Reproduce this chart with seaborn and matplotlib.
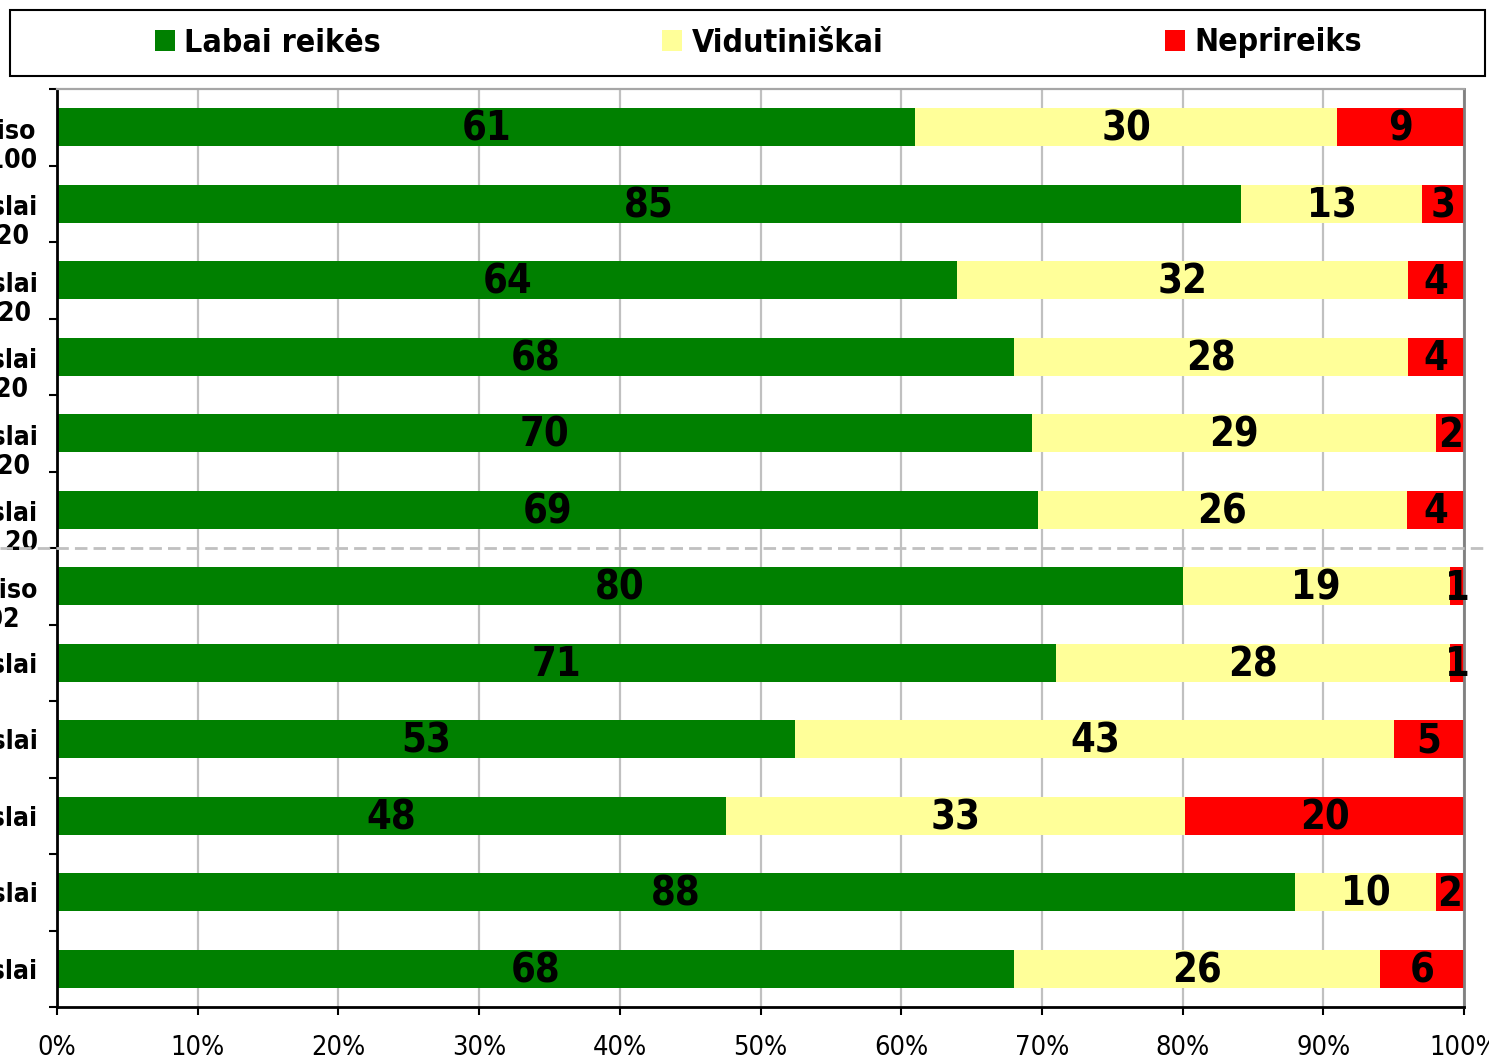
import matplotlib
matplotlib.use("Agg")
import matplotlib.pyplot as plt
from matplotlib.patches import Rectangle
from matplotlib.font_manager import FontProperties
import seaborn as sns
import pandas as pd

# ---------------- data ----------------
categories = [
    "\nIš viso\nN=100",
    "\nGamybos verslai\nimties dydis 20",
    "\nStatybos verslai\nimties dydis 20",
    "\nPrekybos verslai\nimties dydis 20",
    "\nPaslaugų verslai\nimties dydis 20",
    "\nTurizmo verslai\nimties dydis 20",
    "\nIš viso\n102",
    "Gamybos verslai",
    "Statybos verslai",
    "Prekybos verslai",
    "Paslaugų verslai",
    "Turizmo verslai",
]
labai_reikes = [61, 85, 64, 68, 70, 69, 80, 71, 53, 48, 88, 68]
vidutiniskai = [30, 13, 32, 28, 29, 26, 19, 28, 43, 33, 10, 26]
neprireiks = [9, 3, 4, 4, 2, 4, 1, 1, 5, 20, 2, 6]
series_names = ["Labai reikės", "Vidutiniškai", "Neprireiks"]
series_colors = ["#008000", "#FFFF99", "#FF0000"]
x_ticks = [0, 10, 20, 30, 40, 50, 60, 70, 80, 90, 100]
x_tick_labels = ["0%", "10%", "20%", "30%", "40%", "50%", "60%", "70%", "80%", "90%", "100%"]

# ---------------- style ----------------
sns.set_theme(style="ticks")
plt.rcParams["font.family"] = ["DejaVu Sans"]
plt.rcParams["text.color"] = "black"

df = pd.DataFrame({
    "cat": categories,
    "g": labai_reikes,
    "v": vidutiniskai,
    "n": neprireiks,
})
total = df["g"] + df["v"] + df["n"]
df["s1"] = df["g"] / total * 100
df["s2"] = (df["g"] + df["v"]) / total * 100
df["s3"] = (df["g"] + df["v"] + df["n"]) / total * 100

W, H = 1489, 1059
fig = plt.figure(figsize=(W / 100, H / 100), dpi=100, facecolor="white")
ax = fig.add_axes([57 / W, 1 - 1007 / H, (1464 - 57) / W, (1007 - 89) / H])
ax.set_facecolor("white")

# cumulative stacked bars (drawn back to front)
for col, name, color in [("s3", series_names[2], series_colors[2]),
                         ("s2", series_names[1], series_colors[1]),
                         ("s1", series_names[0], series_colors[0])]:
    sns.barplot(data=df, y="cat", x=col, order=categories, orient="h",
                color=color, saturation=1, width=0.5, errorbar=None,
                label=name, linewidth=0, ax=ax, zorder=2)

if ax.get_legend() is not None:
    ax.get_legend().remove()

ax.set_xlim(0, 100)
ax.set_ylim(len(categories) - 0.5, -0.5)
ax.set_xlabel("")
ax.set_ylabel("")

# grid
ax.set_xticks(x_ticks)
ax.set_xticklabels(x_tick_labels)
ax.xaxis.grid(True, color="#c0c0c0", linewidth=1.6)
ax.yaxis.grid(False)
ax.set_axisbelow(True)

# spines
ax.spines["left"].set_color("black")
ax.spines["left"].set_linewidth(2)
ax.spines["bottom"].set_color("black")
ax.spines["bottom"].set_linewidth(2)
ax.spines["top"].set_visible(True)
ax.spines["top"].set_color("#a6a6a6")
ax.spines["top"].set_linewidth(1.6)
ax.spines["right"].set_visible(True)
ax.spines["right"].set_color("#808080")
ax.spines["right"].set_linewidth(2)

# y ticks: labels at centres, tick marks at boundaries
ax.set_yticks(range(len(categories)))
ax.set_yticklabels(categories)
ax.set_yticks([i - 0.5 for i in range(len(categories) + 1)], minor=True)
ax.tick_params(axis="y", which="major", length=0, pad=14)
ax.tick_params(axis="y", which="minor", length=6, width=1.5, color="black",
               direction="out", left=True)
for t in ax.get_yticklabels():
    t.set_fontsize(19)
    t.set_fontweight("bold")
    t.set_fontstretch("condensed")
    t.set_multialignment("center")
    t.set_linespacing(1.15)
    t.set_color("black")

ax.tick_params(axis="x", which="major", length=6, width=1.5, color="black",
               direction="out", pad=14, bottom=True)
for t in ax.get_xticklabels():
    t.set_fontsize(19.5)
    t.set_fontstretch("condensed")
    t.set_color("black")

# dashed separator across the whole figure
ax.axhline(5.5, xmin=-57 / 1407, xmax=1432 / 1407, clip_on=False,
           color="#c0c0c0", linewidth=2, linestyle=(0, (4.5, 2.2)), zorder=3)

# value labels centred in each segment
for i in range(len(categories)):
    starts = [0, df["s1"][i], df["s2"][i]]
    ends = [df["s1"][i], df["s2"][i], df["s3"][i]]
    vals = [labai_reikes[i], vidutiniskai[i], neprireiks[i]]
    for s, e, v in zip(starts, ends, vals):
        ax.text((s + e) / 2, i + 0.03, str(v), ha="center", va="center",
                fontsize=28.5, fontweight="bold", fontstretch="condensed",
                color="black", zorder=4)

# legend
handles, labels = ax.get_legend_handles_labels()
lookup = dict(zip(labels, handles))
ordered = [lookup[n] for n in series_names]
fig.legend(ordered, series_names, loc="center",
           bbox_to_anchor=(155 / W, 1 - 56 / H, (1362 - 155) / W, 26 / H),
           mode="expand", ncol=3, frameon=False, borderaxespad=0, borderpad=0,
           handlelength=0.62, handleheight=0.62, handletextpad=0.3,
           labelcolor="black",
           prop=FontProperties(family="DejaVu Sans", weight="bold", size=23,
                               stretch="condensed"))
fig.add_artist(Rectangle((10 / W, 1 - 76 / H), (1485 - 10) / W, 66 / H,
                         transform=fig.transFigure, fill=False,
                         edgecolor="black", linewidth=1.5))

fig.savefig("out.png", dpi=100, facecolor="white")
